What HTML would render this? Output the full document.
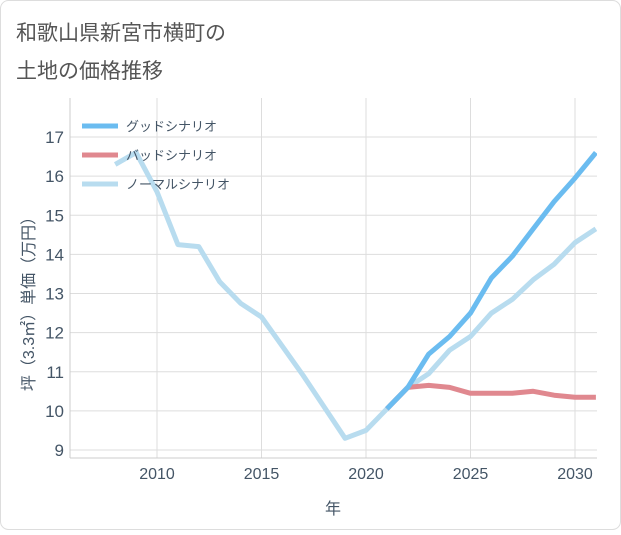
<!DOCTYPE html>
<html><head><meta charset="utf-8"><style>
html,body{margin:0;padding:0;background:#fff;}
body{width:621px;height:530px;overflow:hidden;font-family:"Liberation Sans","Noto Sans CJK JP",sans-serif;}
</style></head><body>
<svg width="621" height="530" xmlns="http://www.w3.org/2000/svg">
<rect x="0.5" y="0.5" width="620" height="529" rx="8" fill="#fff" stroke="#ddd"/>
<text x="16" y="40" font-size="21" fill="#555" font-family="Liberation Sans,Noto Sans CJK JP,sans-serif">和歌山県新宮市横町の</text>
<text x="16" y="78" font-size="21" fill="#555" font-family="Liberation Sans,Noto Sans CJK JP,sans-serif">土地の価格推移</text>
<g id="grid"></g>
<g id="axes"></g>
<g id="series"></g>
<g id="legend"></g>
<text transform="translate(34,300) rotate(-90)" text-anchor="middle" font-size="16" fill="#456" font-family="Liberation Sans,Noto Sans CJK JP,sans-serif">坪（3.3㎡）単価（万円）</text>
<text x="333" y="514" text-anchor="middle" font-size="16" fill="#456" font-family="Liberation Sans,Noto Sans CJK JP,sans-serif">年</text>
</svg>
<script>
const yTicks=[9,10,11,12,13,14,15,16,17];
const xTicks=[2010,2015,2020,2025,2030];
const normalYears=[2008,2009,2010,2011,2012,2013,2014,2015,2016,2017,2018,2019,2020,2021,2022,2023,2024,2025,2026,2027,2028,2029,2030,2031];
const normalVals=[16.3,16.6,15.6,14.25,14.2,13.3,12.75,12.4,11.65,10.9,10.1,9.3,9.5,10.05,10.6,10.95,11.55,11.9,12.5,12.85,13.35,13.75,14.3,14.65];
const goodYears=[2021,2022,2023,2024,2025,2026,2027,2028,2029,2030,2031];
const goodVals=[10.05,10.6,11.45,11.9,12.5,13.4,13.95,14.65,15.35,15.95,16.6];
const badYears=[2021,2022,2023,2024,2025,2026,2027,2028,2029,2030,2031];
const badVals=[10.05,10.6,10.65,10.6,10.45,10.45,10.45,10.5,10.4,10.35,10.35];
const legendLabels=["グッドシナリオ","バッドシナリオ","ノーマルシナリオ"];
const NS="http://www.w3.org/2000/svg";
const L=70,R=597,T=98,B=458;
const xs=y=>157+(y-2010)*(575-157)/20;
const ys=v=>450-(v-9)*(450-137)/8;
function mk(t,a,p){const e=document.createElementNS(NS,t);for(const k in a)e.setAttribute(k,a[k]);p.appendChild(e);return e;}
const grid=document.getElementById('grid'),axes=document.getElementById('axes');
mk('rect',{x:L,y:T,width:R-L,height:B-T,fill:'#fff',stroke:'none'},grid);
yTicks.forEach(v=>{
 const l=mk('line',{x1:L,x2:R,y1:ys(v),y2:ys(v),stroke:'#ddd','stroke-width':1},grid);
 
 
 const t=mk('text',{x:L-6,y:ys(v)+6,'text-anchor':'end','font-size':17,fill:'#456'},axes);
 t.textContent=v;
 
 
});
xTicks.forEach(v=>{
 const l=mk('line',{x1:xs(v),x2:xs(v),y1:T,y2:B,stroke:'#ddd','stroke-width':1},grid);
 
 
 const t=mk('text',{x:xs(v),y:B+21,'text-anchor':'middle','font-size':16,fill:'#456'},axes);
 t.textContent=v;
 
 
});
mk('line',{x1:L,x2:L,y1:T,y2:B,stroke:'#ccc'},axes);
mk('line',{x1:L,x2:R,y1:B,y2:B,stroke:'#ccc'},axes);
const ser=document.getElementById('series');
const clip=mk('clipPath',{id:'pc'},ser);mk('rect',{x:L,y:T,width:R-L,height:B-T},clip);
function line(xa,va,col,name){
 const d=xa.map((x,i)=>(i?'L':'M')+xs(x).toFixed(1)+','+ys(va[i]).toFixed(1)).join('');
 const p=mk('path',{d:d,fill:'none',stroke:col,'stroke-width':5,'stroke-linejoin':'round','clip-path':'url(#pc)'},ser);
 
 
}
line(normalYears,normalVals,'#b8dcef','normal-scenario-line');
line(badYears,badVals,'#e0888f','bad-scenario-line');
line(goodYears,goodVals,'#6bbcf0','good-scenario-line');
const lg=document.getElementById('legend');
const cols=['#6bbcf0','#e0888f','#b8dcef'];
legendLabels.forEach((s,i)=>{
 const y=126+i*29;
 const g=mk('g',{},lg);
 
 
 mk('line',{x1:82,x2:118,y1:y,y2:y,stroke:cols[i],'stroke-width':5},g);
 const t=mk('text',{x:126,y:y+5,'font-size':13,fill:'#456'},g);
 t.textContent=s;
});
</script>
</body></html>
